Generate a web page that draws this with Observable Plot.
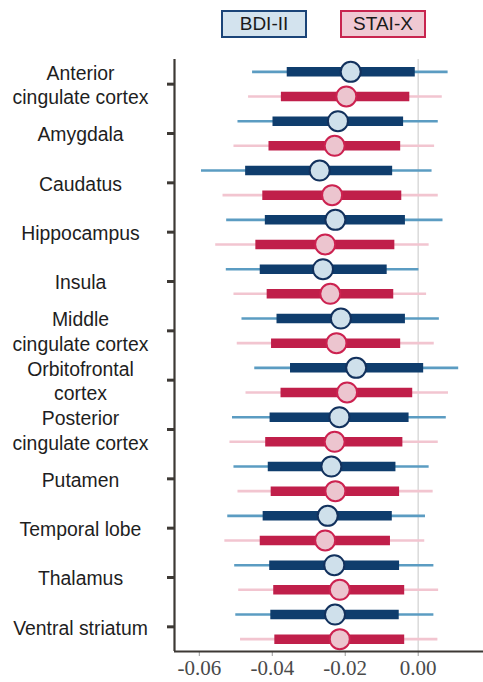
<!DOCTYPE html>
<html>
<head>
<meta charset="utf-8">
<script src="https://cdn.jsdelivr.net/npm/d3@7"></script>
<script src="https://cdn.jsdelivr.net/npm/@observablehq/plot@0.6"></script>
<style>
  html, body { margin: 0; padding: 0; background: #fff; }
  #wrap { position: relative; width: 483px; height: 682px; }
  #legend { position: relative; height: 48px; }
  .key { position: absolute; top: 10px; height: 28px; box-sizing: border-box; border: 2px solid; 
         font-family: "Liberation Sans", Arial, sans-serif; font-size: 19px; color: #1a1a1a;
         display: flex; align-items: center; justify-content: center; }
</style>
</head>
<body>
<div id="wrap">
  <div id="legend"></div>
  <div id="chart"></div>
</div>
<script>
const regions = ["Anterior\ncingulate cortex", "Amygdala", "Caudatus", "Hippocampus", "Insula",
  "Middle\ncingulate cortex", "Orbitofrontal\ncortex", "Posterior\ncingulate cortex", "Putamen",
  "Temporal lobe", "Thalamus", "Ventral striatum"];
const seriesNames = ["BDI-II", "STAI-X"];

// BDI-II: outer low, inner low, estimate, inner high, outer high
const bdiOuterLo = [-0.0454, -0.0494, -0.0594, -0.0525, -0.0526, -0.0483, -0.0448, -0.0509, -0.0505, -0.0522, -0.0503, -0.0500];
const bdiInnerLo = [-0.0359, -0.0398, -0.0473, -0.0419, -0.0433, -0.0387, -0.0350, -0.0406, -0.0411, -0.0425, -0.0407, -0.0404];
const bdiEst     = [-0.0185, -0.0220, -0.0270, -0.0227, -0.0261, -0.0212, -0.0170, -0.0216, -0.0238, -0.0248, -0.0230, -0.0228];
const bdiInnerHi = [-0.0008, -0.0040, -0.0070, -0.0035, -0.0085, -0.0035,  0.0015, -0.0025, -0.0061, -0.0071, -0.0051, -0.0052];
const bdiOuterHi = [ 0.0082,  0.0055,  0.0038,  0.0068,  0.0002,  0.0058,  0.0111,  0.0077,  0.0030,  0.0020,  0.0043,  0.0043];

// STAI-X
const staiOuterLo = [-0.0465, -0.0505, -0.0535, -0.0555, -0.0505, -0.0496, -0.0472, -0.0516, -0.0494, -0.0530, -0.0492, -0.0487];
const staiInnerLo = [-0.0375, -0.0409, -0.0426, -0.0445, -0.0414, -0.0402, -0.0376, -0.0418, -0.0403, -0.0433, -0.0396, -0.0393];
const staiEst     = [-0.0197, -0.0229, -0.0236, -0.0255, -0.0241, -0.0224, -0.0195, -0.0229, -0.0227, -0.0255, -0.0215, -0.0215];
const staiInnerHi = [-0.0023, -0.0048, -0.0045, -0.0064, -0.0067, -0.0048, -0.0015, -0.0042, -0.0051, -0.0076, -0.0037, -0.0037];
const staiOuterHi = [ 0.0066,  0.0045,  0.0055,  0.0030,  0.0023,  0.0044,  0.0083,  0.0055,  0.0041,  0.0018,  0.0056,  0.0054];

const xTicks = [-0.06, -0.04, -0.02, 0.00];
const xTickLabels = ["-0.06", "-0.04", "-0.02", "0.00"];

const colors = {
  "BDI-II": {thin: "#5b9cc2", thick: "#0f3d6d", fill: "#cfe0eb", stroke: "#12315d", legendFill: "#d3e3ee", legendStroke: "#1a4478"},
  "STAI-X": {thin: "#f2c5d0", thick: "#c01f4a", fill: "#ecc5cf", stroke: "#cc2250", legendFill: "#f0c9d3", legendStroke: "#c8254f"}
};

// legend
const legend = document.getElementById("legend");
const legendPos = {"BDI-II": 221, "STAI-X": 340};
for (const s of seriesNames) {
  const d = document.createElement("div");
  d.className = "key";
  d.textContent = s;
  d.style.left = legendPos[s] + "px";
  d.style.width = "86px";
  d.style.background = colors[s].legendFill;
  d.style.borderColor = colors[s].legendStroke;
  legend.appendChild(d);
}

const rows = [];
regions.forEach((r, i) => {
  rows.push({region: r, i, series: "BDI-II", lo: bdiOuterLo[i], ilo: bdiInnerLo[i], est: bdiEst[i], ihi: bdiInnerHi[i], hi: bdiOuterHi[i]});
  rows.push({region: r, i, series: "STAI-X", lo: staiOuterLo[i], ilo: staiInnerLo[i], est: staiEst[i], ihi: staiInnerHi[i], hi: staiOuterHi[i]});
});
const off = 12.3;
const dyOf = s => s === "BDI-II" ? -off : off;
const bdi = rows.filter(d => d.series === "BDI-II");
const stai = rows.filter(d => d.series === "STAI-X");

function seriesMarks(data, s) {
  const c = colors[s];
  const dy = dyOf(s);
  return [
    Plot.ruleY(data, {y: "i", x1: "lo", x2: "hi", stroke: c.thin, strokeWidth: 2.6, dy}),
    Plot.ruleY(data, {y: "i", x1: "ilo", x2: "ihi", stroke: c.thick, strokeWidth: 9.5, dy}),
    Plot.dot(data, {y: "i", x: "est", r: 10, fill: c.fill, stroke: c.stroke, strokeWidth: 2, dy})
  ];
}

const xMin = -0.0668, xMax = 0.0179;
const chart = Plot.plot({
  width: 483,
  height: 634,
  marginTop: 11,
  marginBottom: 31,
  marginLeft: 174,
  marginRight: 0,
  style: {background: "#fff", overflow: "visible"},
  x: {domain: [xMin, xMax], axis: null, label: null},
  y: {domain: [-0.5, regions.length - 0.5], reverse: true, axis: null, label: null},
  marks: [
    Plot.ruleX([0], {stroke: "#dcdcdc", strokeWidth: 1.6}),
    ...seriesMarks(bdi, "BDI-II"),
    ...seriesMarks(stai, "STAI-X"),
    // x axis
    Plot.axisX({ticks: xTicks, tickSize: 5, tickPadding: 4, stroke: "#9a9a9a", label: null,
      tickFormat: d => xTickLabels[xTicks.indexOf(d)],
      fontSize: 21, fontFamily: "Liberation Serif, serif", fill: "#4a4a4a", anchor: "bottom"}),
    // y axis ticks
    Plot.axisY({ticks: d3.range(regions.length), tickSize: 7, tickFormat: () => "", label: null,
      stroke: "#3d3935", strokeWidth: 3, anchor: "left"}),
    // axis lines
    Plot.ruleX([xMin], {stroke: "#3d3935", strokeWidth: 2.2}),
    Plot.ruleY([regions.length - 0.5], {stroke: "#3d3935", strokeWidth: 2.2}),
    // y labels
    Plot.text(regions, {y: (d, i) => i, text: d => d, frameAnchor: "left", dx: -94, textAnchor: "middle",
      fontSize: 19.4, fontFamily: "Liberation Sans, Arial, sans-serif", fill: "#1e1e1e", lineHeight: 1.27})
  ]
});
document.getElementById("chart").appendChild(chart);
</script>
</body>
</html>
